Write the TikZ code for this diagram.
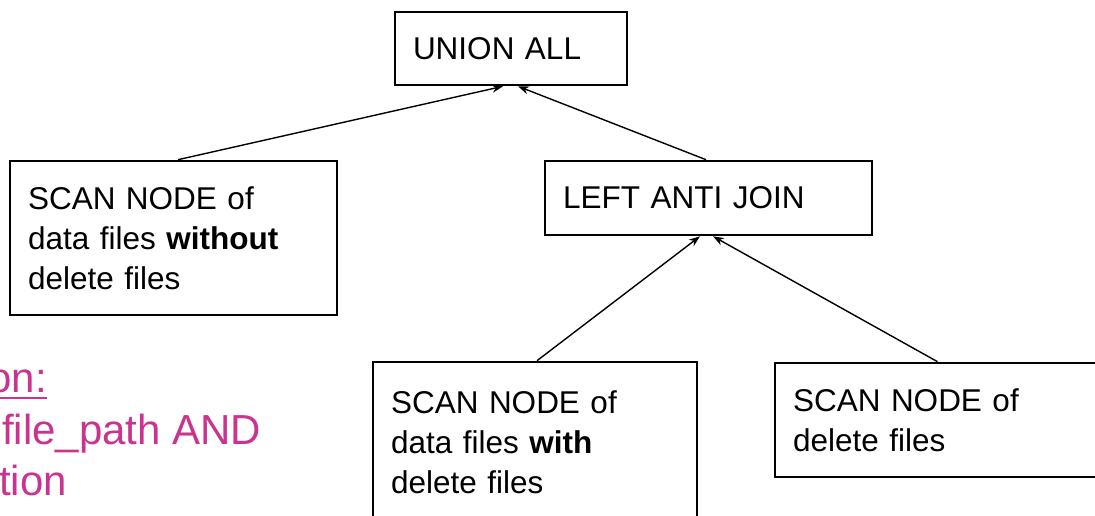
\documentclass[tikz,border=0pt]{standalone}
\usepackage{fontspec}
\setmainfont{Liberation Sans}
\usetikzlibrary{arrows.meta,calc}
\definecolor{condpink}{RGB}{200,52,143}
\tikzset{
  planbox/.style={draw=black, line width=2.6pt, fill=white, inner xsep=18pt,
    inner ysep=0pt, align=left, font=\fontsize{31.5}{40}\selectfont},
  feed/.style={line width=1.4pt, -{Stealth[length=11pt,width=8pt]}},
  condtext/.style={text=condpink, inner sep=0pt, font=\fontsize{42}{50}\selectfont}
}
\begin{document}
\begin{tikzpicture}[x=1pt,y=-1pt]
\useasboundingbox (0,0) rectangle (1095,516);
\clip (0,0) rectangle (1095,516);

% plan operators
\node[planbox, minimum width=232pt, minimum height=73pt, text width=196pt]
  (union) at (511,48.5) {UNION ALL};
\node[planbox, minimum width=327pt, minimum height=154pt, text width=291pt]
  (scanL) at (173.5,238) {SCAN NODE of\\data files \textbf{without}\\delete files};
\node[planbox, minimum width=327pt, minimum height=74pt, text width=291pt]
  (laj) at (708.5,198) {LEFT ANTI JOIN};
\node[planbox, minimum width=324pt, minimum height=160pt, text width=288pt]
  (scanM) at (535,442) {SCAN NODE of\\data files \textbf{with}\\delete files};
\node[planbox, minimum width=325pt, minimum height=114pt, text width=289pt]
  (scanR) at (937.5,420) {SCAN NODE of\\delete files};

% data flow
\draw[feed] ([xshift=4.5pt]scanL.north) -- ([xshift=-8pt]union.south);
\draw[feed] ([xshift=-2.5pt]laj.north) -- ([xshift=7pt]union.south);
\draw[feed] ([xshift=2pt]scanM.north) -- ([xshift=-8.5pt]laj.south);
\draw[feed] (scanR.north) -- ([xshift=4.5pt]laj.south);

% join condition note
\node[condtext, anchor=base east] (condhead) at (47,392) {on:};
\draw[condpink, line width=2.6pt] (0,398) -- (47,398);
\node[condtext, anchor=base west] (condl1) at (2,444) {file\_path AND};
\node[condtext, anchor=base west] (condl2) at (-1,495) {tion};
\end{tikzpicture}
\end{document}
